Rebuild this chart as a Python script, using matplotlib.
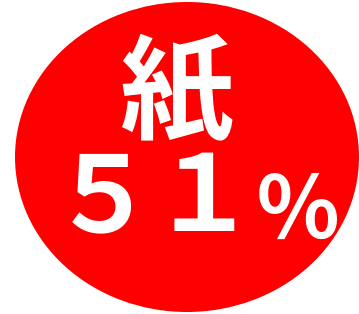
import matplotlib
matplotlib.use("Agg")
import matplotlib.pyplot as plt
from matplotlib.patches import Ellipse

category = "紙"
value = 51
value_label = "５１％"

W, H = 359, 314
fig = plt.figure(figsize=(W / 100, H / 100), dpi=100)
ax = fig.add_axes([0, 0, 1, 1])
ax.set_xlim(0, W)
ax.set_ylim(H, 0)
ax.axis("off")

fam = ["Noto Sans CJK JP", "DejaVu Sans"]
ax.add_patch(Ellipse((187, 157), 344, 310, facecolor="#ff0000", edgecolor="none"))
ax.text(176, 131, category, color="white", fontsize=82, fontweight="bold",
        family=fam, ha="center", va="baseline")

centers = [103, 203, 298]
baselines = [231, 231, 239]
sizes = [76, 76, 62]
for ch, cx, by, fs in zip(value_label, centers, baselines, sizes):
    ax.text(cx, by, ch, color="white", fontsize=fs, fontweight="bold",
            family=fam, ha="center", va="baseline")

fig.savefig("out.png", dpi=100)
